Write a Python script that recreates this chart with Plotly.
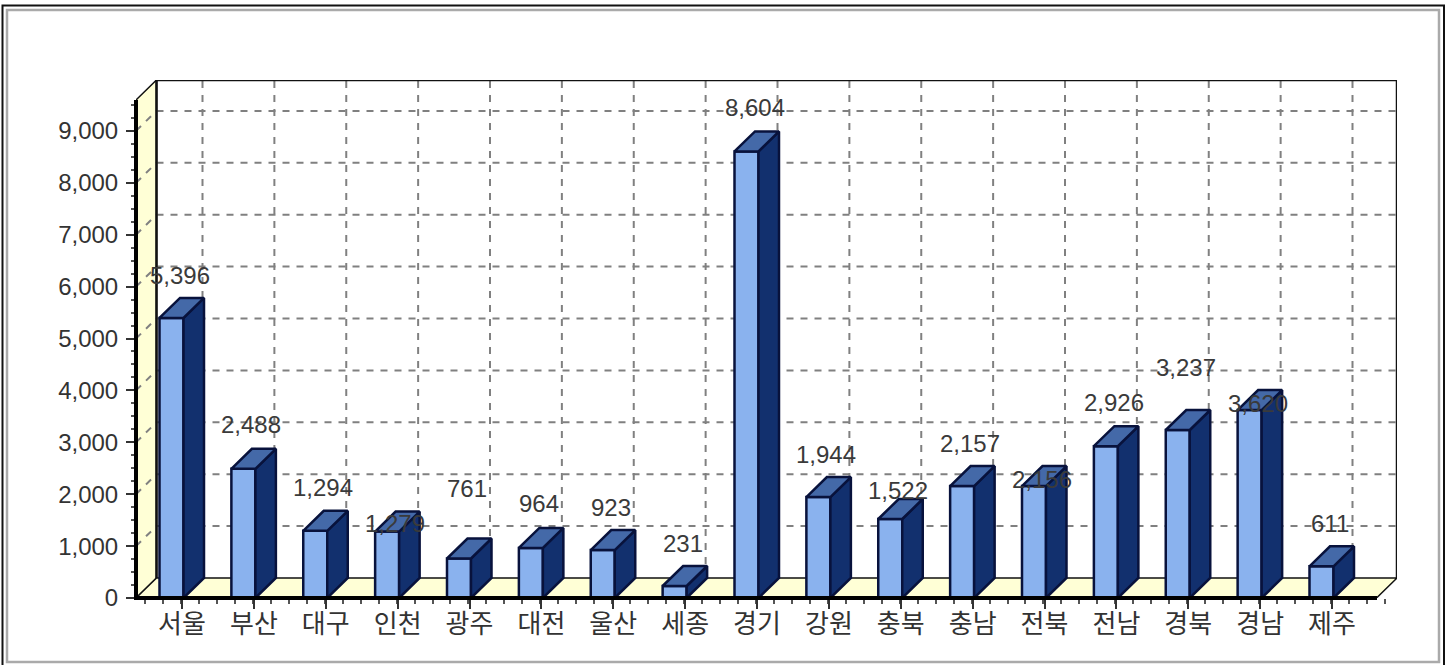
import plotly.graph_objects as go

categories = ["서울", "부산", "대구", "인천", "광주", "대전", "울산", "세종", "경기",
              "강원", "충북", "충남", "전북", "전남", "경북", "경남", "제주"]
values = [5396, 2488, 1294, 1279, 761, 964, 923, 231, 8604,
          1944, 1522, 2157, 2156, 2926, 3237, 3620, 611]
# label lift above the bar front top, in pixels (labels were nudged apart in the source)
label_lift = [42, 44, 43, 8, 70, 44, 43, 43, 44, 43, 29, 43, 7, 44, 63, 7, 43]
y_ticks = [0, 1000, 2000, 3000, 4000, 5000, 6000, 7000, 8000, 9000]

W, H = 1450, 665
L, R, T, B = 136, 1397, 80, 598
PX_X = 71.875    # pixels per category
PX_Y = 0.0519    # pixels per unit
TICK0 = 182
DX = 20.5 / PX_X
DY = 20 / PX_Y
BW = 24 / PX_X
SHIFT = -10.5 / PX_X

x_lo = (L - TICK0) / PX_X
x_hi = (R - TICK0) / PX_X
y_hi = (B - T) / PX_Y
y_axis_top = 9595
x_axis_end = x_hi - DX
n = len(categories)

GRID = dict(color="#808080", width=2, dash="7px,7px")
INK = "#111111"
WALL = "#FFFFD6"


def px(xp):
    return (xp - L) / (R - L)


def py(yp):
    return (B - yp) / (B - T)


shapes = []
# walls
shapes.append(dict(type="path", layer="below", xref="x", yref="y",
                   path=f"M{x_lo},0 L{x_lo+DX},{DY} L{x_lo+DX},{y_hi} L{x_lo},{y_axis_top} Z",
                   fillcolor=WALL, line=dict(color=INK, width=1.5)))
shapes.append(dict(type="path", layer="below", xref="x", yref="y",
                   path=f"M{x_lo},0 L{x_lo+DX},{DY} L{x_hi},{DY} L{x_axis_end},0 Z",
                   fillcolor=WALL, line=dict(color=INK, width=1.5)))
# back grid
for v in y_ticks[1:]:
    shapes.append(dict(type="line", layer="below", xref="x", yref="y",
                       x0=x_lo + DX, x1=x_hi, y0=v + DY, y1=v + DY, line=GRID))
    shapes.append(dict(type="line", layer="below", xref="x", yref="y",
                       x0=x_lo, x1=x_lo + DX, y0=v, y1=v + DY, line=GRID))
for i in range(n):
    shapes.append(dict(type="line", layer="below", xref="x", yref="y",
                       x0=i + DX, x1=i + DX, y0=DY, y1=y_hi, line=GRID))
# back wall outline
shapes.append(dict(type="path", layer="below", xref="x", yref="y",
                   path=f"M{x_lo+DX},{DY} L{x_lo+DX},{y_hi} L{x_hi},{y_hi} L{x_hi},{DY}",
                   line=dict(color=INK, width=2.5)))
# frame
shapes.append(dict(type="rect", xref="paper", yref="paper", layer="below",
                   x0=px(2.5), x1=px(1444), y0=py(700), y1=py(5.5),
                   line=dict(color="#111111", width=2)))
shapes.append(dict(type="rect", xref="paper", yref="paper", layer="below",
                   x0=px(7), x1=px(1439), y0=py(662), y1=py(10),
                   line=dict(color="#aaaaaa", width=2.5)))
# heavy front axis lines (paper reference so they are not clipped at the plot edge)
shapes.append(dict(type="line", xref="paper", yref="paper", layer="above",
                   x0=px(136), x1=px(136), y0=py(598), y1=py(100),
                   line=dict(color="#000000", width=4)))
shapes.append(dict(type="line", xref="paper", yref="paper", layer="above",
                   x0=px(134), x1=px(1377), y0=py(598), y1=py(598),
                   line=dict(color="#000000", width=4)))

centers = [i + SHIFT for i in range(n)]

fig = go.Figure()
fig.add_trace(go.Bar(x=centers, y=values, width=BW,
                     marker=dict(color="#8AB2EE", line=dict(color="#08123C", width=2.5)),
                     hoverinfo="skip"))

side_x, side_y, top_x, top_y = [], [], [], []
for c, v in zip(centers, values):
    a, b = c - BW / 2, c + BW / 2
    side_x += [b, b + DX, b + DX, b, b, None]
    side_y += [0, DY, v + DY, v, 0, None]
    top_x += [a, a + DX, b + DX, b, a, None]
    top_y += [v, v + DY, v + DY, v, v, None]

fig.add_trace(go.Scatter(x=side_x, y=side_y, mode="lines", fill="toself",
                         fillcolor="#12306E", line=dict(color="#08123C", width=2.5),
                         hoverinfo="skip", cliponaxis=False))
fig.add_trace(go.Scatter(x=top_x, y=top_y, mode="lines", fill="toself",
                         fillcolor="#4469A8", line=dict(color="#08123C", width=2.5),
                         hoverinfo="skip", cliponaxis=False))

annotations = [dict(x=i, y=v, xref="x", yref="y", text=f"{v:,}", showarrow=False,
                    xanchor="center", yanchor="middle", xshift=-2.5, yshift=lift,
                    font=dict(family="Liberation Sans", size=24, color="#3a3a3a"))
               for i, (v, lift) in enumerate(zip(values, label_lift))]

x_minor = [x_lo + 9 / PX_X + k * 0.25 for k in range(int((x_axis_end - x_lo) / 0.25) + 1)]
y_minor = [k * 250 for k in range(39)]

fig.update_layout(
    width=W, height=H, autosize=False,
    margin=dict(l=L, r=W - R, t=T, b=H - B, pad=0),
    paper_bgcolor="white", plot_bgcolor="white",
    showlegend=False, shapes=shapes, annotations=annotations,
    font=dict(family="Liberation Sans", size=24, color="#333333"),
    xaxis=dict(range=[x_lo, x_hi], tickmode="array", tickvals=list(range(n)),
               ticktext=categories, ticks="outside", ticklen=10, tickwidth=1.5,
               tickcolor="#333333", showgrid=False, zeroline=False, showline=False,
               tickangle=0, ticklabelstandoff=-7,
               tickfont=dict(family="Noto Sans CJK KR", size=26, color="#333333"),
               minor=dict(tickmode="array", tickvals=x_minor, ticks="outside",
                          ticklen=5, tickwidth=1.5, tickcolor="#555555", showgrid=False)),
    yaxis=dict(range=[0, y_hi], tickmode="array", tickvals=y_ticks,
               ticktext=[f"{v:,}" for v in y_ticks], ticks="outside", ticklen=9, tickwidth=1.5,
               tickcolor="#333333", showgrid=False, zeroline=False, showline=False,
               ticklabelstandoff=3,
               tickfont=dict(family="Liberation Sans", size=24, color="#333333"),
               minor=dict(tickmode="array", tickvals=y_minor, ticks="outside",
                          ticklen=4, tickwidth=1.5, tickcolor="#555555", showgrid=False)),
)

fig.write_html("out.html", config=dict(displayModeBar=False),
               post_script="document.body.style.margin='0';document.body.style.overflow='hidden';")
